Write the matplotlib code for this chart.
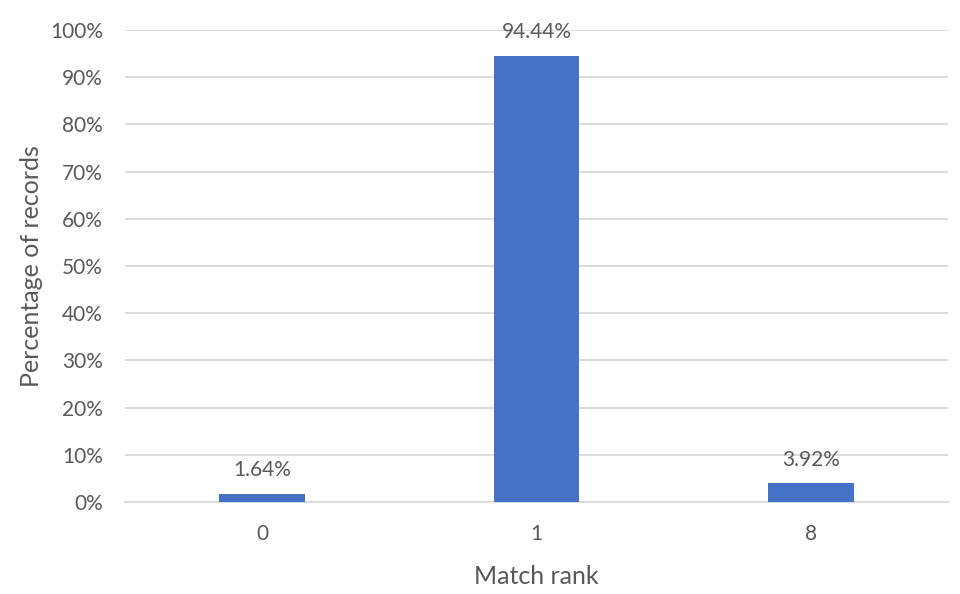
import matplotlib
matplotlib.use("Agg")
import matplotlib.pyplot as plt
from matplotlib.ticker import PercentFormatter

categories = ["0", "1", "8"]
percentages = [1.64, 94.44, 3.92]

TEXT = "#595959"
BAR = "#4472C4"
GRID = "#D9D9D9"

plt.rcParams["font.family"] = ["Lato", "DejaVu Sans"]

fig = plt.figure(figsize=(9.6, 5.94), dpi=100, facecolor="white")
ax = fig.add_axes([125 / 960, 1 - 502 / 594, 823 / 960, 472 / 594])

x = range(len(categories))
bars = ax.bar(x, percentages, width=0.313, color=BAR, zorder=3)
for b, v in zip(bars, percentages):
    ax.annotate(f"{v:.2f}%", (b.get_x() + b.get_width() / 2, v),
                xytext=(0, 10), textcoords="offset points",
                ha="center", va="bottom", fontsize=15, color=TEXT)

ax.set_xlim(-0.5, 2.5)
ax.set_ylim(0, 100)
ax.set_yticks(range(0, 101, 10))
ax.yaxis.set_major_formatter(PercentFormatter(decimals=0))
ax.set_xticks(list(x))
ax.set_xticklabels(categories)
ax.grid(axis="y", color=GRID, linewidth=1.3, zorder=0)
for s in ["top", "right", "left"]:
    ax.spines[s].set_visible(False)
ax.spines["bottom"].set_color(GRID)
ax.spines["bottom"].set_linewidth(1.3)
ax.tick_params(axis="both", length=0, labelsize=15, labelcolor=TEXT)
ax.tick_params(axis="y", pad=16)
ax.tick_params(axis="x", pad=16)

ax.set_xlabel("Match rank", fontsize=18, color=TEXT, labelpad=15)
ax.set_ylabel("Percentage of records", fontsize=18, color=TEXT, labelpad=5)

fig.savefig("out.png", dpi=100, facecolor="white")
